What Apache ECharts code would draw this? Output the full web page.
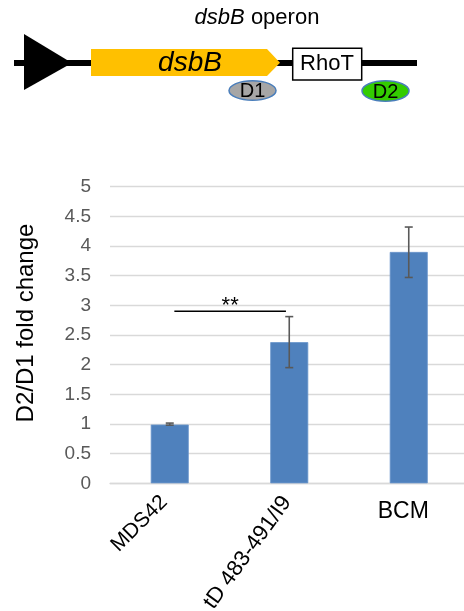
<!DOCTYPE html>
<html>
<head>
<meta charset="utf-8">
<script src="https://cdn.jsdelivr.net/npm/echarts@6/dist/echarts.min.js"></script>
<style>
html,body{margin:0;padding:0;background:#fff;}
#chart{width:464px;height:611px;}
</style>
</head>
<body>
<div id="chart"></div>
<script>
// ---- data ----
const categories = ['MDS42', 'tD 483-491/I9', 'BCM'];
const foldChange = [0.99, 2.38, 3.90];
const errLow = [0.98, 1.95, 3.47];
const errHigh = [1.015, 2.81, 4.32];
const yTicks = [0, 0.5, 1, 1.5, 2, 2.5, 3, 3.5, 4, 4.5, 5];
const sigFrom = [0];
const sigTo = [1];
const sigLevel = [2.9];
const sigText = ['**'];

const FONT = '"Liberation Sans", Arial, sans-serif';
const chart = echarts.init(document.getElementById('chart'), null, {renderer: 'canvas'});

function onlyLabel(i) {
  return function (v) { return v === categories[i] ? v : ''; };
}

const errData = categories.map((c, i) => [i, errLow[i], errHigh[i]]);
const sigData = sigFrom.map((f, i) => [f, sigTo[i], sigLevel[i], sigText[i]]);

const option = {
  animation: false,
  backgroundColor: '#ffffff',
  grid: {left: 110, right: -4.5, top: 186.7, bottom: 127.7, containLabel: false, outerBoundsMode: 'none'},
  xAxis: [
    {
      type: 'category', data: categories, gridIndex: 0, position: 'bottom',
      axisLine: {show: true, lineStyle: {color: '#D9D9D9', width: 1.3}},
      axisTick: {show: false},
      axisLabel: {interval: 0, rotate: 45, margin: 10, padding: [0, 8, 0, 0],
        fontSize: 21, color: '#000', fontFamily: FONT, formatter: onlyLabel(0)}
    },
    {
      type: 'category', data: categories, gridIndex: 0, position: 'bottom',
      axisLine: {show: false}, axisTick: {show: false},
      axisLabel: {interval: 0, rotate: 54, margin: 12, padding: [0, 4, 0, 0],
        fontSize: 22, color: '#000', fontFamily: FONT, formatter: onlyLabel(1)}
    },
    {
      type: 'category', data: categories, gridIndex: 0, position: 'bottom',
      axisLine: {show: false}, axisTick: {show: false},
      axisLabel: {interval: 0, rotate: 0, margin: 17, padding: [0, 11, 0, 0],
        fontSize: 23, color: '#000', fontFamily: FONT, formatter: onlyLabel(2)}
    }
  ],
  yAxis: {
    type: 'value', min: yTicks[0], max: yTicks[yTicks.length - 1], interval: 0.5,
    name: 'D2/D1 fold change', nameLocation: 'middle', nameGap: 72,
    nameTextStyle: {fontSize: 24, color: '#000', fontFamily: FONT, padding: [0, 0, 0, 24]},
    axisLine: {show: false}, axisTick: {show: false},
    axisLabel: {fontSize: 19, color: '#595959', fontFamily: FONT, margin: 19},
    splitLine: {show: true, lineStyle: {color: '#D9D9D9', width: 1.3}}
  },
  series: [
    {
      type: 'bar', xAxisIndex: 0, data: foldChange, barWidth: 38,
      itemStyle: {color: '#4F81BD', borderColor: '#6A95CC', borderWidth: 0.8}
    },
    {
      type: 'custom', xAxisIndex: 0, data: errData, z: 10,
      renderItem: function (params, api) {
        const x = api.value(0);
        const lo = api.coord([x, api.value(1)]);
        const hi = api.coord([x, api.value(2)]);
        const cap = 4;
        const st = {stroke: '#595959', lineWidth: 1.6};
        return {type: 'group', children: [
          {type: 'line', shape: {x1: lo[0], y1: lo[1], x2: hi[0], y2: hi[1]}, style: st},
          {type: 'line', shape: {x1: lo[0] - cap, y1: lo[1], x2: lo[0] + cap, y2: lo[1]}, style: st},
          {type: 'line', shape: {x1: hi[0] - cap, y1: hi[1], x2: hi[0] + cap, y2: hi[1]}, style: st}
        ]};
      }
    },
    {
      type: 'custom', xAxisIndex: 0, data: sigData, z: 10,
      renderItem: function (params, api) {
        const a = api.coord([api.value(0), api.value(2)]);
        const b = api.coord([api.value(1), api.value(2)]);
        const x1 = a[0] + 4.6, x2 = b[0] - 3.3;
        return {type: 'group', children: [
          {type: 'line', shape: {x1: x1, y1: a[1], x2: x2, y2: a[1]}, style: {stroke: '#000', lineWidth: 1.6}},
          {type: 'text', x: (x1 + x2) / 2, y: a[1] - 5, style: {text: sigText[params.dataIndex], fontSize: 22,
            fontFamily: FONT, fill: '#000', align: 'center', verticalAlign: 'middle'}}
        ]};
      }
    }
  ],
  graphic: [
    {type: 'text', x: 257, y: 18, style: {text: '{i|dsbB} operon', align: 'center', verticalAlign: 'middle',
      fontSize: 22, fontFamily: FONT, fill: '#000', rich: {i: {fontStyle: 'italic', fontSize: 22, fontFamily: FONT}}}},
    {type: 'line', shape: {x1: 14, y1: 63, x2: 417, y2: 63}, style: {stroke: '#000', lineWidth: 6}},
    {type: 'polygon', shape: {points: [[24, 34], [72, 63], [24, 90]]}, style: {fill: '#000'}},
    {type: 'polygon', shape: {points: [[91, 49], [267, 49], [280, 62.7], [267, 76], [91, 76]]}, style: {fill: '#FFC000'}},
    {type: 'text', x: 190, y: 63, style: {text: 'dsbB', fontStyle: 'italic', fontSize: 28, fontFamily: FONT,
      fill: '#000', align: 'center', verticalAlign: 'middle'}},
    {type: 'rect', shape: {x: 292.7, y: 48.3, width: 69, height: 31.7}, style: {fill: '#fff', stroke: '#000', lineWidth: 1.5}},
    {type: 'text', x: 327, y: 64, style: {text: 'RhoT', fontSize: 22, fontFamily: FONT, fill: '#000', align: 'center', verticalAlign: 'middle'}},
    {type: 'ellipse', shape: {cx: 252.5, cy: 90.5, rx: 23.5, ry: 9.8}, style: {fill: '#A6A6A6', stroke: '#4A7EBB', lineWidth: 1.5}},
    {type: 'text', x: 252.5, y: 91.5, style: {text: 'D1', fontSize: 20, fontFamily: FONT, fill: '#000', align: 'center', verticalAlign: 'middle'}},
    {type: 'ellipse', shape: {cx: 385.5, cy: 91, rx: 23.5, ry: 10.2}, style: {fill: '#33CC00', stroke: '#4A7EBB', lineWidth: 1.5}},
    {type: 'text', x: 385.5, y: 92, style: {text: 'D2', fontSize: 20, fontFamily: FONT, fill: '#000', align: 'center', verticalAlign: 'middle'}}
  ]
};
chart.setOption(option);
</script>
</body>
</html>
